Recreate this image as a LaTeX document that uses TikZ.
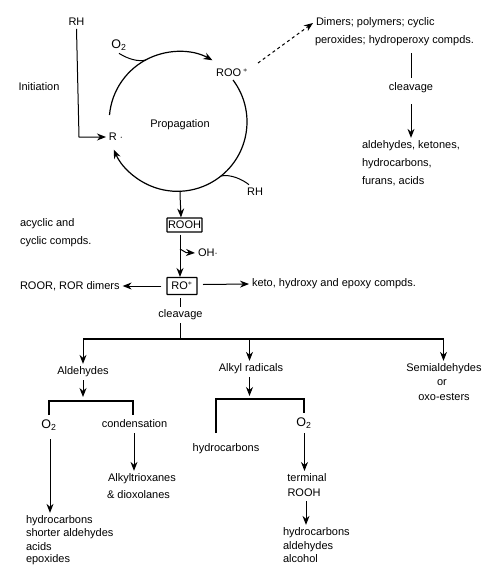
\documentclass[tikz,border=0pt]{standalone}
\usepackage{fontspec}
\setmainfont{Liberation Sans}
\usepackage{tikz}
\usetikzlibrary{arrows.meta}
\tikzset{
  lbl/.style={inner sep=0pt,outer sep=3pt,font=\fontsize{11}{13}\selectfont},
  lblw/.style={lbl,anchor=west,xshift=-3pt},
  oxy/.style={lbl,font=\fontsize{12.5}{14}\selectfont},
  boxed/.style={draw,line width=1.1pt,rounded corners=0.5pt,inner sep=0pt,font=\fontsize{11}{13}\selectfont},
  flow/.style={line width=1pt,-{Stealth[length=9pt,width=7pt]}},
  wire/.style={line width=1pt},
  bar/.style={line width=1.2pt}
}
\begin{document}
\begin{tikzpicture}[x=1pt,y=-1pt]
  \useasboundingbox (0,0) rectangle (495,576);
  % initiation and propagation loop
  \node[lbl] (rhtop) at (76.5,22) {RH};
  \node[oxy] (otop) at (119,45) {O\textsubscript{2}};
  \node[lbl] (roo) at (232,73) {ROO\,$^{*}$};
  \node[lbl] (init) at (39,87) {Initiation};
  \node[lbl] (prop) at (180,124.5) {Propagation};
  \node[lbl] (rad) at (116,137) {R $\cdot$};
  \node[lbl] (rhright) at (255,191.5) {RH};
  \coordinate (arcatop) at (109.5,115);
  \coordinate (arcbtop) at (233,80);
  \coordinate (kink) at (79,137);
  \coordinate (ojoin) at (146,60);
  \coordinate (rhjoin) at (221,176);
  \draw[flow,line width=1.2pt] (arcatop) arc[start angle=175,end angle=61,radius=69.5pt];
  \draw[flow,line width=1.2pt] (arcbtop) arc[start angle=37,end angle=-156.5,radius=69.5pt];
  \draw[flow] (rhtop.south) -- (kink) -- (rad.west);
  \draw[wire] (otop.south) .. controls (128,59) and (138,62) .. (ojoin);
  \draw[wire] (rhright.north)+(-6,0) .. controls (242,179) and (230,174) .. (rhjoin);
  % dimers branch
  \node[lblw] (dimers) at (316,23) {Dimers; polymers; cyclic};
  \node[lblw] (perox) at (315,41) {peroxides; hydroperoxy compds.};
  \node[lbl] (cleavtop) at (411,88) {cleavage};
  \node[lblw] (aldket) at (362,146) {aldehydes, ketones,};
  \node[lblw] (hcone) at (362,164) {hydrocarbons,};
  \node[lblw] (furans) at (362,181) {furans, acids};
  \draw[flow,dashed] (258,63) -- (dimers.west);
  \draw[wire] (cleavtop.north)++(0,-2) -- ++(0,-25);
  \draw[flow] (cleavtop.south)++(0,8) -- (aldket.north -| cleavtop);
  % hydroperoxide and alkoxy
  \node[boxed,minimum width=35pt,minimum height=14pt] (rooh) at (184.5,225) {ROOH};
  \node[boxed,minimum width=30pt,minimum height=17pt] (ro) at (182,286) {RO$^{*}$};
  \node[lblw] (acyc) at (20,224) {acyclic and};
  \node[lblw] (cyc) at (20,242) {cyclic compds.};
  \node[lblw] (oh) at (198,253) {OH$\cdot$};
  \node[lblw] (dimer) at (20,286) {ROOR, ROR dimers};
  \node[lblw] (keto) at (252,284) {keto, hydroxy and epoxy compds.};
  \node[lbl] (cleavmid) at (180.5,315) {cleavage};
  \coordinate (stem) at (180,191);
  \coordinate (ohjoin) at (180,249);
  \draw[flow] (stem) .. controls (180,198) and (180.5,204) .. (rooh.north -| 181,0);
  \draw[flow] (rooh.south -| 180,0)+(0,2) -- (ro.north -| 180,0);
  \draw[wire] (ohjoin) -- (186,252.5);
  \draw[flow] (186,252.5) -- (oh.west);
  \draw[flow] (ro.west)+(-5,0) -- (dimer.east);
  \draw[flow] (203,284.5) -- (keto.west);
  % cleavage products
  \node[lbl] (ald) at (83,372) {Aldehydes};
  \node[lbl] (alk) at (251,369) {Alkyl radicals};
  \node[lbl] (semi) at (444,369) {Semialdehydes};
  \node[lbl] (orr) at (442,383) {or};
  \node[lbl] (oxo) at (444,397) {oxo-esters};
  \coordinate (bara) at (83,339);
  \coordinate (barb) at (249.5,339);
  \coordinate (barc) at (443.5,339);
  \coordinate (barm) at (180,339);
  \draw[wire] (180,298) -- (cleavmid.north -| 180,0);
  \draw[wire] (cleavmid.south -| 180,0) -- (barm);
  \draw[bar] (bara) -- (barc);
  \draw[flow] (bara) -- (ald.north -| bara);
  \draw[flow] (barb) -- (alk.north -| barb);
  \draw[flow] (barc) -- (semi.north -| barc);
  % aldehydes branch
  \node[oxy] (oleft) at (49,425) {O\textsubscript{2}};
  \node[lbl] (cond) at (134.5,424) {condensation};
  \node[lblw] (trio) at (108,479) {Alkyltrioxanes};
  \node[lblw] (diox) at (107,495) {\& dioxolanes};
  \node[lblw] (ha) at (26,521) {hydrocarbons};
  \node[lblw] (hb) at (26,534) {shorter aldehydes};
  \node[lblw] (hc) at (26,547) {acids};
  \node[lblw] (hd) at (26,559.5) {epoxides};
  \draw[flow] (ald.south -| 83,0) -- (83,397);
  \draw[bar] (49,415) -- (49,401) -- (133,401) -- (133,415);
  \draw[flow] (50,439) -- (ha.north -| 50,0);
  \draw[flow] (134,433) -- (trio.north -| 134,0);
  % alkyl branch
  \node[lbl] (hcmid) at (226,449) {hydrocarbons};
  \node[oxy] (oright) at (304,423) {O\textsubscript{2}};
  \node[lbl] (term) at (307,478) {terminal};
  \node[lbl] (roohb) at (304,493) {ROOH};
  \node[lblw] (ta) at (283,533) {hydrocarbons};
  \node[lblw] (tb) at (283,547) {aldehydes};
  \node[lblw] (tc) at (283,559) {alcohol};
  \draw[flow] (alk.south -| 249.5,0) -- (249.5,396);
  \draw[bar] (216,433) -- (216,399) -- (304,399) -- (304,413);
  \draw[flow] (304.5,433) -- (term.north -| 304.5,0);
  \draw[flow] (306,501) -- (ta.north -| 306,0);
\end{tikzpicture}
\end{document}
